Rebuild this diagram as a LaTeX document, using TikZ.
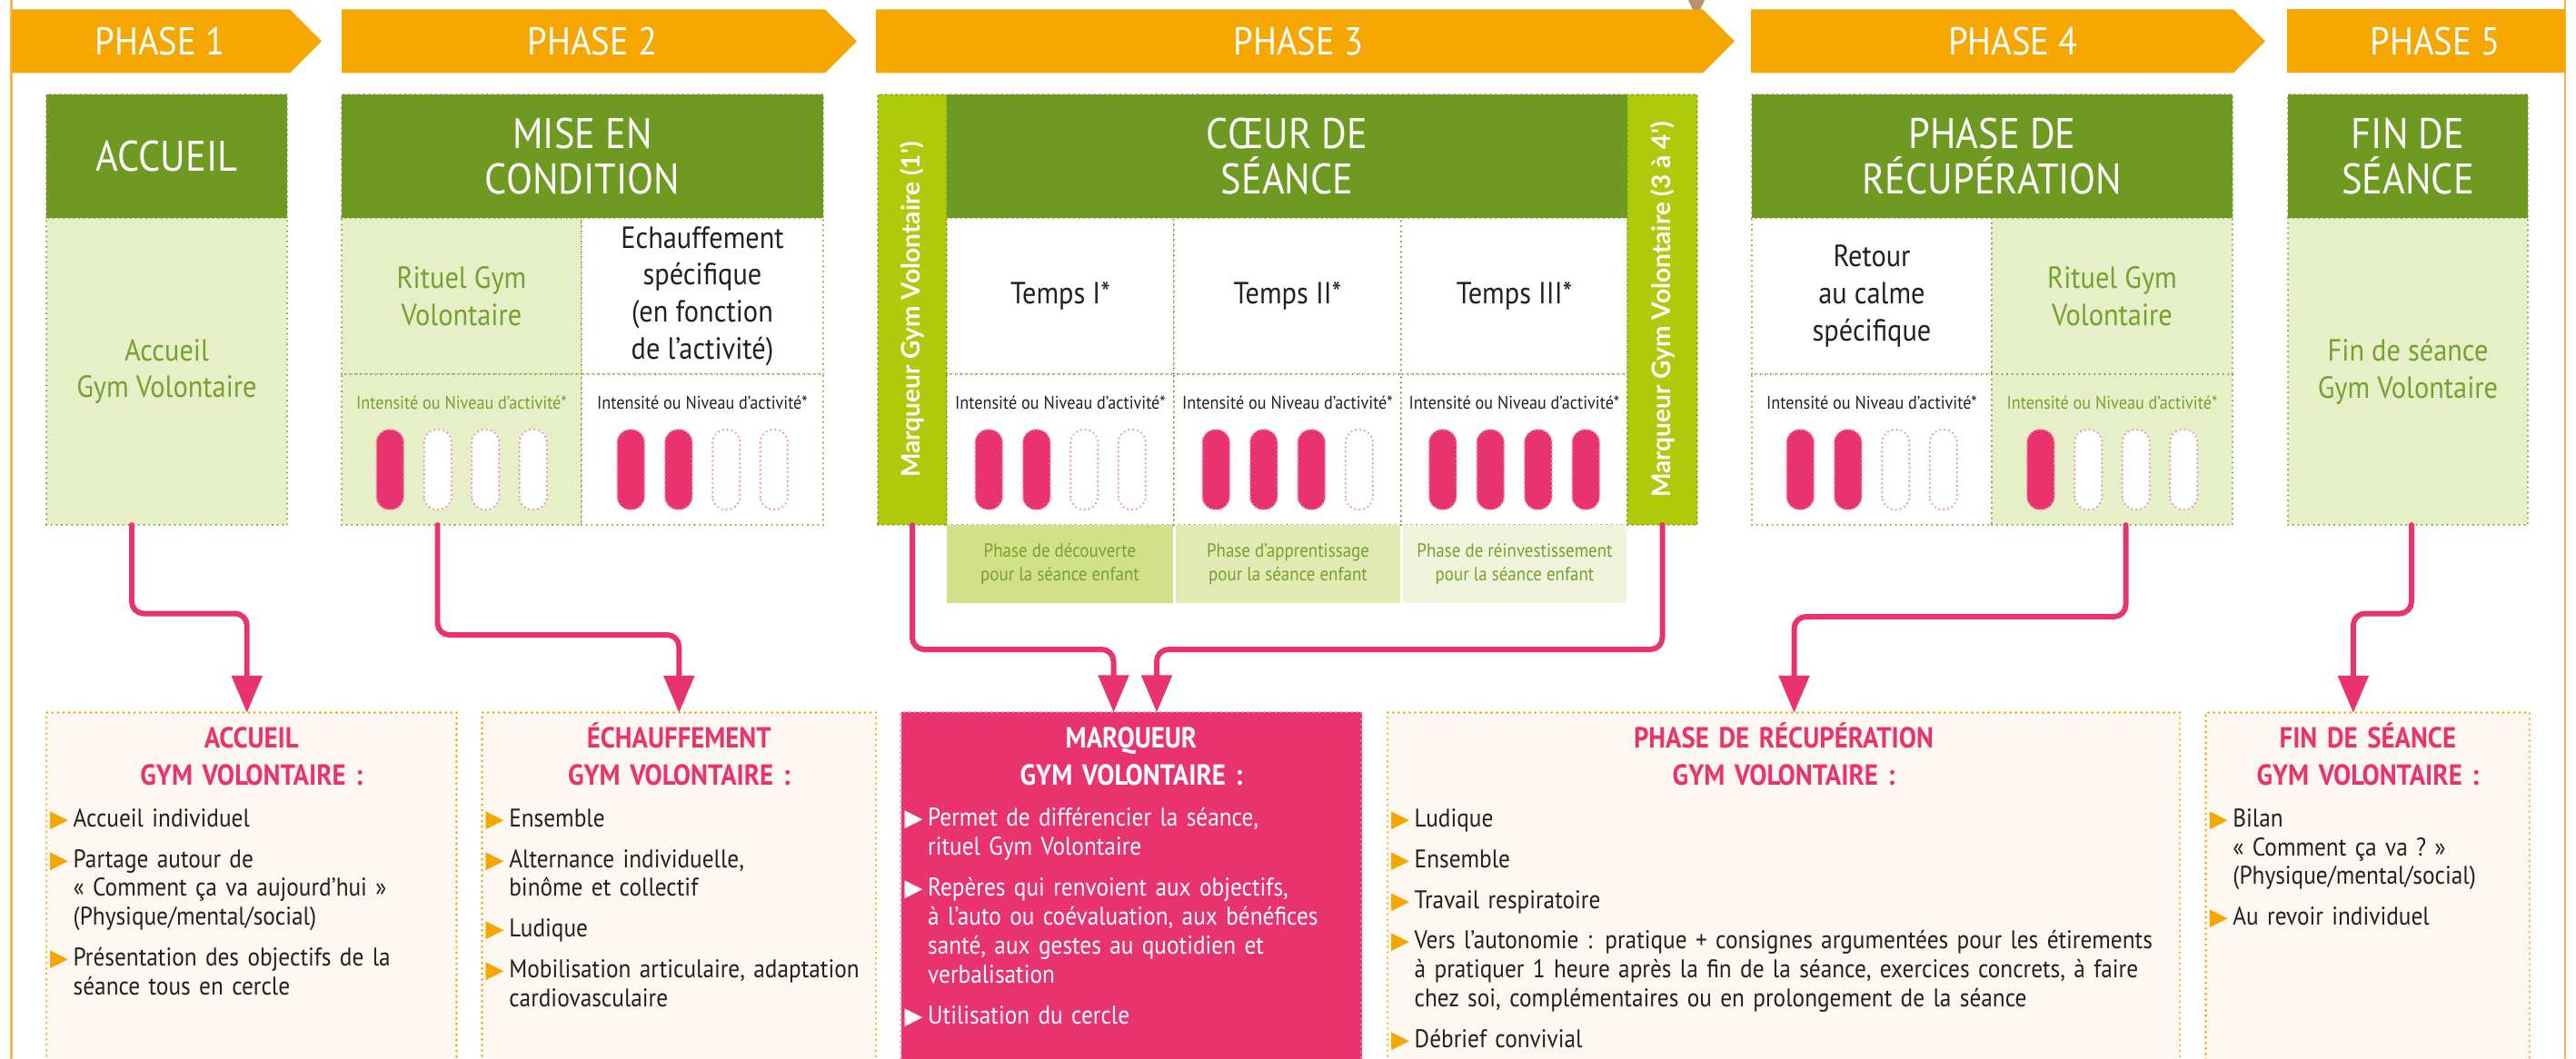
\documentclass[tikz,border=0pt]{standalone}
\usepackage{fontspec}
\setmainfont{PT Sans}[FakeStretch=0.9]
\newfontfamily\marqfont{Lato}
\newfontfamily\symbfont{DejaVu Sans}
\usepackage{xcolor}
\usepackage{tikz}
\usetikzlibrary{calc}
\usetikzlibrary{arrows}
\usetikzlibrary{positioning}
\usetikzlibrary{shapes.symbols}
\definecolor{orangeph}{rgb}{0.96,0.655,0.}
\definecolor{vertfonce}{rgb}{0.435,0.604,0.133}
\definecolor{vertclair}{rgb}{0.906,0.937,0.784}
\definecolor{vertlime}{rgb}{0.686,0.792,0.043}
\definecolor{textevert}{rgb}{0.46,0.63,0.18}
\definecolor{textenoir}{rgb}{0.13,0.13,0.13}
\definecolor{rose}{rgb}{0.91,0.2,0.43}
\definecolor{rosepale}{rgb}{0.95,0.55,0.71}
\definecolor{creme}{rgb}{0.992,0.969,0.945}
\definecolor{sousA}{rgb}{0.827,0.878,0.541}
\definecolor{sousB}{rgb}{0.886,0.918,0.702}
\definecolor{sousC}{rgb}{0.937,0.957,0.859}
\definecolor{bordpage}{rgb}{0.97,0.71,0.28}
\definecolor{brun}{rgb}{0.72,0.58,0.42}
\newcommand{\puce}[1][orangeph]{\noindent\llap{\textcolor{#1}{\symbfont\fontsize{7.4}{7.4}\selectfont ▶}\hspace{1.6pt}}}
\newcommand{\ecart}{\par\vspace{3.7pt}}
\newcommand{\niveau}[2]{\foreach \k in {1,...,4}{\ifnum\k>#2\relax\def\teinte{white}\else\def\teinte{rose}\fi
    \draw[barre,fill=\teinte] ($(#1.center)+(0.525*\k-1.4625,-0.66)$) rectangle ++(0.30,0.88);}}
\tikzset{
  phase/.style={signal, signal to=east, fill=orangeph, text=white, inner sep=0pt, outer sep=0pt, minimum height=0.7cm, anchor=west, font=\fontsize{12.2}{14}\selectfont, execute at begin node=\hspace*{0.2cm}},
  cadre/.style={rectangle, inner sep=0pt, outer sep=0pt, draw=vertfonce, line width=0.6pt, dash pattern=on 0.01pt off 1.6pt, align=center},
  entete/.style={cadre, fill=vertfonce, text=white, minimum height=1.36cm, font=\fontsize{13.4}{14.1}\selectfont},
  clair/.style={cadre, fill=vertclair, text=textevert, font=\fontsize{9.6}{11.6}\selectfont},
  blanc/.style={cadre, fill=white, text=textenoir, font=\fontsize{9.6}{11.6}\selectfont},
  marque/.style={cadre, fill=vertlime, text=white, minimum width=0.76cm, minimum height=4.74cm, anchor=north west, font=\marqfont\bfseries\fontsize{8}{9}\selectfont},
  intens/.style={inner sep=0pt, font=\fontsize{5.75}{7}\selectfont},
  sousphase/.style={rectangle, inner sep=0pt, outer sep=0pt, minimum height=0.86cm, text=textevert, align=center, font=\fontsize{6}{7.6}\selectfont},
  barre/.style={draw=rosepale, line width=0.7pt, dash pattern=on 0.01pt off 1.4pt, rounded corners=0.14cm},
  boite/.style={rectangle, inner sep=0pt, outer sep=0pt, anchor=north west, minimum height=4.2cm, fill=creme, draw=orangeph, line width=0.8pt, dash pattern=on 0.01pt off 1.7pt},
  titre/.style={anchor=base, align=center, inner sep=0pt, text=rose, font=\bfseries\fontsize{9.1}{11.7}\selectfont},
  liste/.style={anchor=base west, align=left, text width=8.6cm, inner sep=0pt, text=textenoir, font=\fontsize{8}{9.1}\selectfont},
  lien/.style={->, draw=rose, line width=1.7pt, rounded corners=0.13cm}
}

\begin{document}
\begin{tikzpicture}[line cap=round,line join=round,>=triangle 45,x=1.0cm,y=1.0cm]
\useasboundingbox (0,0) rectangle (28.35,-11.65);
\clip (0,0) rectangle (28.35,-11.65);
\draw[bordpage, line width=0.7pt] (0.127,0.) -- (0.127,-11.65);
\draw[bordpage, line width=0.7pt] (28.227,0.) -- (28.227,-11.65);
\fill[brun] (18.58,0.) -- (18.76,0.) -- (18.71,-0.11) -- (18.64,-0.13) -- cycle;

\node[phase, minimum width=3.41cm] (ph1) at (0.13,-0.453) {PHASE 1};
\node[phase, minimum width=5.67cm] (ph2) at (3.76,-0.453) {PHASE 2};
\node[phase, minimum width=9.45cm] (ph3) at (9.64,-0.453) {PHASE 3};
\node[phase, minimum width=5.66cm, execute at begin node=\hspace*{0.26cm}] (ph4) at (19.27,-0.453) {PHASE 4};
\node[phase, rectangle, minimum width=3.06cm, execute at begin node={}] (ph5) at (25.17,-0.453) {PHASE 5};

\node[entete, anchor=north west, minimum width=2.65cm] (h1) at (0.51,-1.04) {ACCUEIL};
\node[clair, below=0pt of h1, minimum width=2.65cm, minimum height=3.38cm] (c1) {Accueil\\Gym Volontaire};

\node[entete, anchor=north west, minimum width=5.30cm] (h2) at (3.76,-1.04) {MISE EN\\CONDITION};
\node[clair, anchor=north west, minimum width=2.64cm, minimum height=1.72cm] (c2a) at (h2.south west) {Rituel Gym\\Volontaire};
\node[blanc, right=0pt of c2a, minimum width=2.66cm, minimum height=1.72cm] (c2b) {Echauffement\\spécifique\\(en fonction\\de l'activité)};
\node[clair, below=0pt of c2a, minimum width=2.64cm, minimum height=1.66cm] (n2a) {};
\node[blanc, below=0pt of c2b, minimum width=2.66cm, minimum height=1.66cm] (n2b) {};

\node[marque] (mk1) at (9.66,-1.04) {\rotatebox{90}{Marqueur Gym Volontaire (1')}};
\node[entete, anchor=north west, minimum width=7.49cm] (h3) at (mk1.north east) {CŒUR DE\\SÉANCE};
\node[blanc, anchor=north west, minimum width=2.50cm, minimum height=1.72cm] (c3a) at (h3.south west) {Temps I*};
\node[blanc, right=0pt of c3a, minimum width=2.50cm, minimum height=1.72cm] (c3b) {Temps II*};
\node[blanc, right=0pt of c3b, minimum width=2.49cm, minimum height=1.72cm] (c3c) {Temps III*};
\node[blanc, below=0pt of c3a, minimum width=2.50cm, minimum height=1.66cm] (n3a) {};
\node[blanc, below=0pt of c3b, minimum width=2.50cm, minimum height=1.66cm] (n3b) {};
\node[blanc, below=0pt of c3c, minimum width=2.49cm, minimum height=1.66cm] (n3c) {};
\node[marque, minimum width=0.77cm] (mk2) at (h3.north east) {\rotatebox{90}{Marqueur Gym Volontaire (3 à 4')}};
\node[sousphase, fill=sousA, anchor=north west, minimum width=2.49cm] (s3a) at (n3a.south west) {Phase de découverte\\pour la séance enfant};
\node[sousphase, fill=sousB, right=0.03cm of s3a, minimum width=2.47cm] (s3b) {Phase d'apprentissage\\pour la séance enfant};
\node[sousphase, fill=sousC, right=0.03cm of s3b, minimum width=2.46cm] (s3c) {Phase de réinvestissement\\pour la séance enfant};

\node[entete, anchor=north west, minimum width=5.29cm] (h4) at (19.28,-1.04) {PHASE DE\\RÉCUPÉRATION};
\node[blanc, anchor=north west, minimum width=2.64cm, minimum height=1.72cm] (c4a) at (h4.south west) {Retour\\au calme\\spécifique};
\node[clair, right=0pt of c4a, minimum width=2.65cm, minimum height=1.72cm] (c4b) {Rituel Gym\\Volontaire};
\node[blanc, below=0pt of c4a, minimum width=2.64cm, minimum height=1.66cm] (n4a) {};
\node[clair, below=0pt of c4b, minimum width=2.65cm, minimum height=1.66cm] (n4b) {};

\node[entete, anchor=north west, minimum width=2.64cm] (h5) at (25.18,-1.04) {FIN DE\\SÉANCE};
\node[clair, below=0pt of h5, minimum width=2.64cm, minimum height=3.38cm] (c5) {Fin de séance\\Gym Volontaire};

\node[intens, text=textevert] (i2a) at ([yshift=0.52cm]n2a.center) {Intensité ou Niveau d'activité*};
\node[intens, text=textenoir] (i2b) at ([yshift=0.52cm]n2b.center) {Intensité ou Niveau d'activité*};
\node[intens, text=textenoir] (i3a) at ([yshift=0.52cm]n3a.center) {Intensité ou Niveau d'activité*};
\node[intens, text=textenoir] (i3b) at ([yshift=0.52cm]n3b.center) {Intensité ou Niveau d'activité*};
\node[intens, text=textenoir] (i3c) at ([yshift=0.52cm]n3c.center) {Intensité ou Niveau d'activité*};
\node[intens, text=textenoir] (i4a) at ([yshift=0.52cm]n4a.center) {Intensité ou Niveau d'activité*};
\node[intens, text=textevert] (i4b) at ([yshift=0.52cm]n4b.center) {Intensité ou Niveau d'activité*};
\niveau{n2a}{1}
\niveau{n2b}{2}
\niveau{n3a}{2}
\niveau{n3b}{3}
\niveau{n3c}{4}
\niveau{n4a}{2}
\niveau{n4b}{1}

\node[boite, minimum width=4.515cm] (b1) at (0.51,-7.845) {};
\node[boite, minimum width=4.334cm] (b2) at (5.306,-7.845) {};
\node[boite, fill=rose, draw=rosepale, minimum width=5.07cm] (b3) at (9.915,-7.84) {};
\node[boite, minimum width=8.72cm] (b4) at (15.27,-7.845) {};
\node[boite, minimum width=3.563cm] (b5) at (24.277,-7.845) {};

\node[titre, text width=4.5cm] (t1) at ([yshift=-0.39cm]b1.north) {ACCUEIL\\GYM VOLONTAIRE :};
\node[titre, text width=4.3cm] (t2) at ([yshift=-0.39cm]b2.north) {ÉCHAUFFEMENT\\GYM VOLONTAIRE :};
\node[titre, text=white, text width=5cm] (t3) at ([yshift=-0.39cm]b3.north) {MARQUEUR\\GYM VOLONTAIRE :};
\node[titre, text width=8.7cm] (t4) at ([yshift=-0.39cm]b4.north) {PHASE DE RÉCUPÉRATION\\GYM VOLONTAIRE :};
\node[titre, text width=3.5cm] (t5) at ([yshift=-0.39cm]b5.north) {FIN DE SÉANCE\\GYM VOLONTAIRE :};

\node[liste] (l1) at ([xshift=0.29cm,yshift=-1.255cm]b1.north west) {\puce Accueil individuel\ecart
  \puce Partage autour de\\«~Comment ça va aujourd'hui~»\\(Physique/mental/social)\ecart
  \puce Présentation des objectifs de la\\séance tous en cercle};
\node[liste] (l2) at ([xshift=0.29cm,yshift=-1.255cm]b2.north west) {\puce Ensemble\ecart
  \puce Alternance individuelle,\\binôme et collectif\ecart
  \puce Ludique\ecart
  \puce Mobilisation articulaire, adaptation\\cardiovasculaire};
\node[liste, text=white] (l3) at ([xshift=0.29cm,yshift=-1.255cm]b3.north west) {\puce[white]Permet de différencier la séance,\\rituel Gym Volontaire\ecart
  \puce[white]Repères qui renvoient aux objectifs,\\à l'auto ou coévaluation, aux bénéfices\\santé, aux gestes au quotidien et\\verbalisation\ecart
  \puce[white]Utilisation du cercle};
\node[liste] (l4) at ([xshift=0.29cm,yshift=-1.255cm]b4.north west) {\puce Ludique\ecart
  \puce Ensemble\ecart
  \puce Travail respiratoire\ecart
  \puce Vers l'autonomie : pratique + consignes argumentées pour les étirements\\à pratiquer 1 heure après la fin de la séance, exercices concrets, à faire\\chez soi, complémentaires ou en prolongement de la séance\ecart
  \puce Débrief convivial};
\node[liste] (l5) at ([xshift=0.29cm,yshift=-1.255cm]b5.north west) {\puce Bilan\\«~Comment ça va ?~»\\(Physique/mental/social)\ecart
  \puce Au revoir individuel};

\draw[lien] ([xshift=-0.385cm]c1.south) -- ++(0,-0.975) -| ([xshift=-0.05cm]b1.north);
\draw[lien] ([xshift=-0.265cm]n2a.south) -- ++(0,-1.21) -| (b2.north);
\draw[lien] (mk1.south) -- ++(0,-1.37) -| ([xshift=-0.195cm]b3.north);
\draw[lien] (mk2.south) -- ++(0,-1.37) -| ([xshift=0.28cm]b3.north);
\draw[lien] ([xshift=0.15cm]n4b.south) -- ++(0,-1.01) -| ([xshift=0.115cm]b4.north);
\draw[lien] ([xshift=0.04cm]c5.south) -- ++(0,-0.975) -| ([xshift=-0.16cm]b5.north);
\end{tikzpicture}
\end{document}
